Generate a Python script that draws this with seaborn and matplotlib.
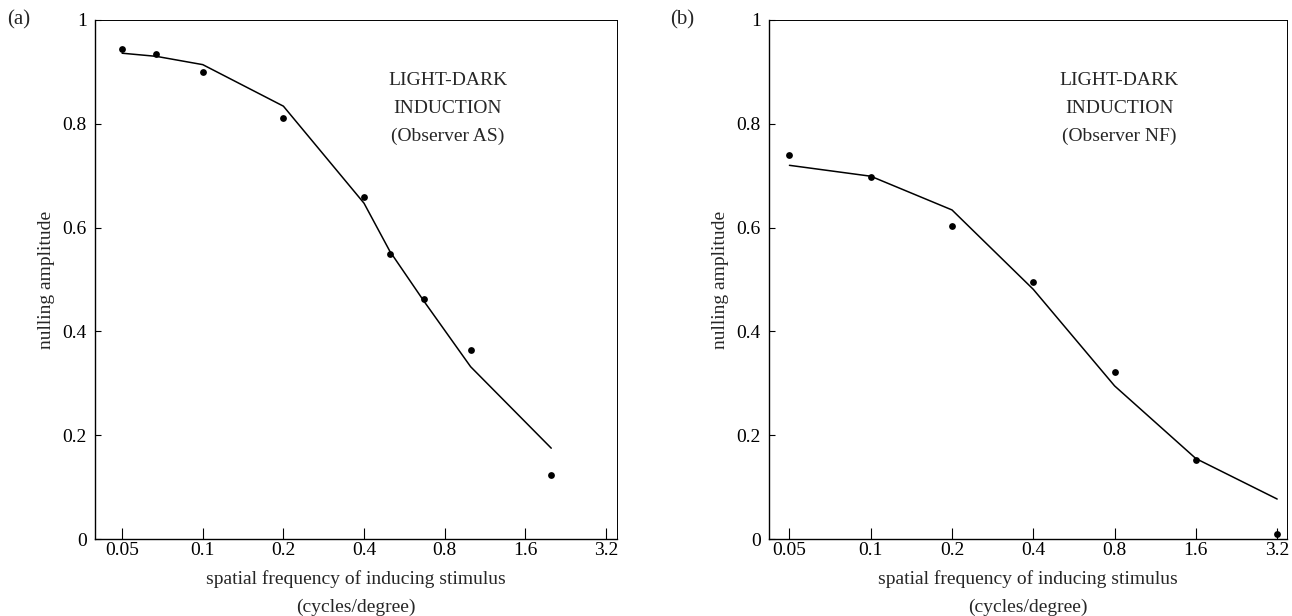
import numpy as np
import pandas as pd
import matplotlib
matplotlib.use("Agg")
import matplotlib.pyplot as plt
import seaborn as sns

sns.set_theme(style="ticks")
plt.rcParams['font.family'] = ['Liberation Serif', 'DejaVu Serif']

# ---- data ----
# panel (a): observer AS
freq_a = [0.05, 0.067, 0.1, 0.2, 0.4, 0.5, 0.67, 1.0, 2.0]
amp_a = [0.944, 0.934, 0.899, 0.811, 0.658, 0.550, 0.462, 0.364, 0.124]
fit_a = [0.936, 0.930, 0.914, 0.834, 0.647, 0.554, 0.458, 0.332, 0.175]

# panel (b): observer NF
freq_b = [0.05, 0.1, 0.2, 0.4, 0.8, 1.6, 3.2]
amp_b = [0.740, 0.698, 0.604, 0.495, 0.321, 0.153, 0.009]
fit_b = [0.720, 0.699, 0.634, 0.481, 0.295, 0.155, 0.077]

x_ticks = [0.05, 0.1, 0.2, 0.4, 0.8, 1.6, 3.2]
x_tick_labels = ['0.05', '0.1', '0.2', '0.4', '0.8', '1.6', '3.2']
y_ticks = [0, 0.2, 0.4, 0.6, 0.8, 1.0]
y_tick_labels = ['0', '0.2', '0.4', '0.6', '0.8', '1']

W, H = 1292, 616
fig = plt.figure(figsize=(W / 100, H / 100), dpi=100)

def px_axes(left, right, top, bottom):
    return fig.add_axes([left / W, 1 - bottom / H, (right - left) / W, (bottom - top) / H])

ax_a = px_axes(95, 617, 20, 539)
ax_b = px_axes(769, 1287, 20, 539)

panels = [
    (ax_a, freq_a, amp_a, fit_a, 'AS', (0.0396, 3.52), '(a)', 7),
    (ax_b, freq_b, amp_b, fit_b, 'NF', (0.042, 3.48), '(b)', 670),
]

for ax, fx, amp, fit, obs, xlim, tag, tag_x in panels:
    df = pd.DataFrame({'freq': fx, 'amp': amp, 'fit': fit})
    sns.lineplot(data=df, x='freq', y='fit', ax=ax, color='black', linewidth=1.1)
    sns.scatterplot(data=df, x='freq', y='amp', ax=ax, color='black', s=24,
                    edgecolor='black', linewidth=0, zorder=3)
    ax.set_xscale('log', base=2)
    ax.set_xlim(*xlim)
    ax.set_ylim(0, 1)
    ax.set_xticks(x_ticks)
    ax.set_xticklabels(x_tick_labels)
    ax.minorticks_off()
    ax.set_yticks(y_ticks)
    ax.set_yticklabels(y_tick_labels)
    ax.tick_params(axis='x', direction='in', length=8, width=0.8, pad=2,
                   labelsize=14, colors='black')
    ax.tick_params(axis='y', direction='in', length=4, width=0.8, pad=6,
                   labelsize=14, colors='black')
    for side, sp in ax.spines.items():
        sp.set_visible(True)
        sp.set_color('black')
        sp.set_linewidth(1.0 if side in ('left', 'bottom') else 0.7)
    ax.set_facecolor('white')
    ax.set_xlabel('spatial frequency of inducing stimulus\n(cycles/degree)',
                  fontsize=14, labelpad=8, linespacing=1.85)
    ax.set_ylabel('nulling amplitude', fontsize=14, labelpad=5)
    ax.text(0.676, 0.884, 'LIGHT-DARK', transform=ax.transAxes,
            ha='center', va='center', fontsize=14)
    ax.text(0.676, 0.830, 'INDUCTION', transform=ax.transAxes,
            ha='center', va='center', fontsize=14)
    ax.text(0.676, 0.775, '(Observer %s)' % obs, transform=ax.transAxes,
            ha='center', va='center', fontsize=14)
    fig.text(tag_x / W, 1 - 20 / H, tag, ha='left', va='center', fontsize=15)

fig.savefig('out.png', dpi=100, facecolor='white')
